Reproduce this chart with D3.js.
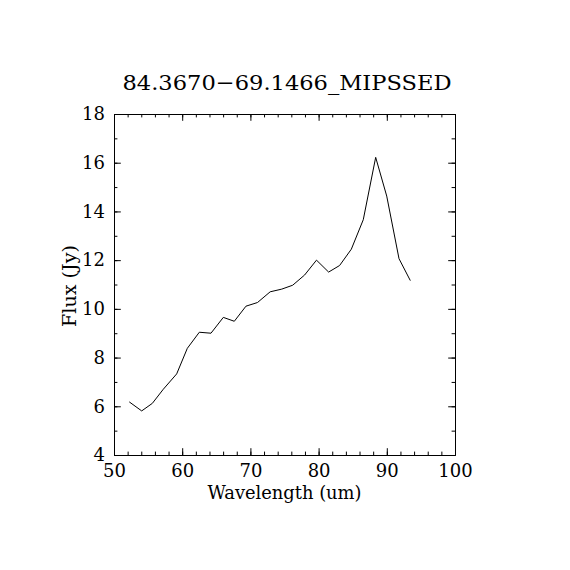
<!DOCTYPE html>
<html>
<head>
<meta charset="utf-8">
<script src="https://cdn.jsdelivr.net/npm/d3@7"></script>
<style>
  html, body { margin: 0; padding: 0; background: #fff; }
  svg { display: block; }
  text { font-family: "DejaVu Serif", "Liberation Serif", serif; fill: #000; }
</style>
</head>
<body>
<svg id="chart" width="570" height="570"></svg>
<script>
const titleText = "84.3670\u221269.1466_MIPSSED";
const xLabel = "Wavelength (um)";
const yLabel = "Flux (Jy)";

const wavelength = [52.24, 54.06, 55.62, 57.23, 59.19, 60.75, 62.51, 64.22, 66.03, 67.64,
                    69.35, 71.04, 72.90, 74.59, 76.20, 77.95, 79.69, 81.47, 83.08, 84.80,
                    86.55, 88.37, 89.99, 91.79, 93.45];
const flux = [6.18, 5.81, 6.12, 6.70, 7.33, 8.38, 9.04, 9.00, 9.65, 9.49,
              10.11, 10.26, 10.70, 10.81, 10.97, 11.39, 12.00, 11.51, 11.78, 12.45,
              13.66, 16.22, 14.63, 12.06, 11.16];

const xDomain = [50, 100];
const yDomain = [4, 18];
const xMajor = [50, 60, 70, 80, 90, 100];
const yMajor = [4, 6, 8, 10, 12, 14, 16, 18];
const xMinor = d3.range(50, 100.01, 2);
const yMinor = d3.range(4, 18.01, 1);

const L = 114, R = 455, T = 114, B = 455;
const svg = d3.select("#chart");

const x = d3.scaleLinear().domain(xDomain).range([L, R]);
const y = d3.scaleLinear().domain(yDomain).range([B, T]);

const majLen = 6.8, minLen = 3.4;

function styleAxis(g) {
  g.selectAll("path.domain").attr("stroke", "#000").attr("stroke-width", 1);
  g.selectAll(".tick line").attr("stroke", "#000").attr("stroke-width", 1);
  g.selectAll("text").attr("font-family", "DejaVu Serif, Liberation Serif, serif")
    .attr("font-size", 18).attr("fill", "#000");
}

// bottom
svg.append("g").attr("transform", `translate(0,${B})`)
  .call(d3.axisBottom(x).tickValues(xMajor).tickSize(-majLen).tickSizeOuter(0).tickPadding(9).tickFormat(d3.format("d")))
  .call(styleAxis);
svg.append("g").attr("transform", `translate(0,${B})`)
  .call(d3.axisBottom(x).tickValues(xMinor).tickSize(-minLen).tickSizeOuter(0).tickFormat(""))
  .call(styleAxis);
// top
svg.append("g").attr("transform", `translate(0,${T})`)
  .call(d3.axisTop(x).tickValues(xMajor).tickSize(-majLen).tickSizeOuter(0).tickFormat(""))
  .call(styleAxis);
svg.append("g").attr("transform", `translate(0,${T})`)
  .call(d3.axisTop(x).tickValues(xMinor).tickSize(-minLen).tickSizeOuter(0).tickFormat(""))
  .call(styleAxis);
// left
svg.append("g").attr("transform", `translate(${L},0)`)
  .call(d3.axisLeft(y).tickValues(yMajor).tickSize(-majLen).tickSizeOuter(0).tickPadding(9).tickFormat(d3.format("d")))
  .call(styleAxis);
svg.append("g").attr("transform", `translate(${L},0)`)
  .call(d3.axisLeft(y).tickValues(yMinor).tickSize(-minLen).tickSizeOuter(0).tickFormat(""))
  .call(styleAxis);
// right
svg.append("g").attr("transform", `translate(${R},0)`)
  .call(d3.axisRight(y).tickValues(yMajor).tickSize(-majLen).tickSizeOuter(0).tickFormat(""))
  .call(styleAxis);
svg.append("g").attr("transform", `translate(${R},0)`)
  .call(d3.axisRight(y).tickValues(yMinor).tickSize(-minLen).tickSizeOuter(0).tickFormat(""))
  .call(styleAxis);

// data line
const pts = wavelength.map((w, i) => [w, flux[i]]);
svg.append("path")
  .datum(pts)
  .attr("fill", "none")
  .attr("stroke", "#000")
  .attr("stroke-width", 1)
  .attr("d", d3.line().x(d => x(d[0])).y(d => y(d[1])));

// title
svg.append("text")
  .attr("x", 287).attr("y", 90)
  .attr("text-anchor", "middle")
  .attr("font-size", 21)
  .attr("textLength", 329).attr("lengthAdjust", "spacingAndGlyphs")
  .text(titleText);

// x label
svg.append("text")
  .attr("x", 284.5).attr("y", 499)
  .attr("text-anchor", "middle")
  .attr("font-size", 18)
  .attr("textLength", 154).attr("lengthAdjust", "spacingAndGlyphs")
  .text(xLabel);

// y label
svg.append("text")
  .attr("transform", "translate(76,286) rotate(-90)")
  .attr("text-anchor", "middle")
  .attr("font-size", 18)
  .attr("textLength", 82).attr("lengthAdjust", "spacingAndGlyphs")
  .text(yLabel);
</script>
</body>
</html>
